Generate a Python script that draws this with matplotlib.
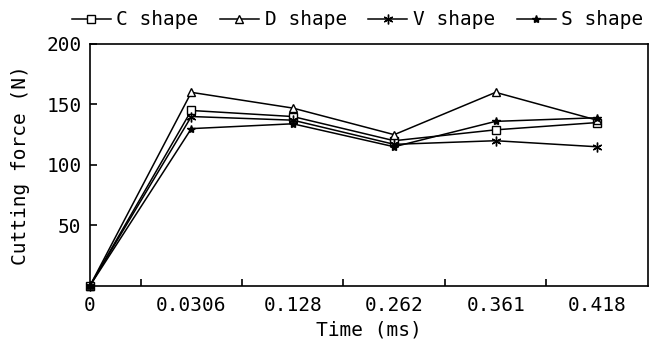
import matplotlib
matplotlib.use('Agg')
import matplotlib.pyplot as plt
import numpy as np

matplotlib.rcParams.update({
    'font.family': 'DejaVu Sans Mono',
    'font.size': 14,
    'axes.linewidth': 1.2,
})

times = ['0', '0.0306', '0.128', '0.262', '0.361', '0.418']
c_shape = [0, 145, 140, 120, 129, 135]
d_shape = [0, 160, 147, 125, 160, 137]
v_shape = [0, 140, 137, 117, 120, 115]
s_shape = [0, 130, 134, 115, 136, 139]

x = np.arange(len(times))

fig = plt.figure(figsize=(6.61, 3.49), dpi=100)
ax = fig.add_axes([0.136, 0.181, 0.844, 0.693])

kw = dict(color='black', lw=1.1, clip_on=False)
ax.plot(x, c_shape, marker='s', ms=6, mfc='white', mec='black', mew=1.0, label='C shape', **kw)
ax.plot(x, d_shape, marker='^', ms=6, mfc='white', mec='black', mew=1.0, label='D shape', **kw)
ax.plot(x, v_shape, marker=(6, 2, 0), ms=7, mec='black', mew=1.0, label='V shape', **kw)
ax.plot(x, s_shape, marker='*', ms=6, mfc='black', mec='black', label='S shape', **kw)

ax.set_xlim(0, 5.5)
ax.set_ylim(0, 200)
ax.set_xticks(x)
ax.set_xticklabels(times)
ax.set_xticks(x[:-1] + 0.5, minor=True)
ax.tick_params(axis='x', which='major', length=0, pad=7)
ax.tick_params(axis='x', which='minor', direction='in', length=5, width=1.2)
ax.set_yticks([50, 100, 150, 200])
ax.tick_params(axis='y', direction='in', length=5, width=1.2, pad=6)

ax.set_xlabel('Time (ms)', labelpad=4)
ax.set_ylabel('Cutting force (N)', labelpad=12)

ax.legend(loc='lower center', bbox_to_anchor=(0.48, 1.02), ncol=4, frameon=False,
          handlelength=2.0, handletextpad=0.3, columnspacing=1.1, borderaxespad=0.1)

fig.savefig('out.png', dpi=100)
